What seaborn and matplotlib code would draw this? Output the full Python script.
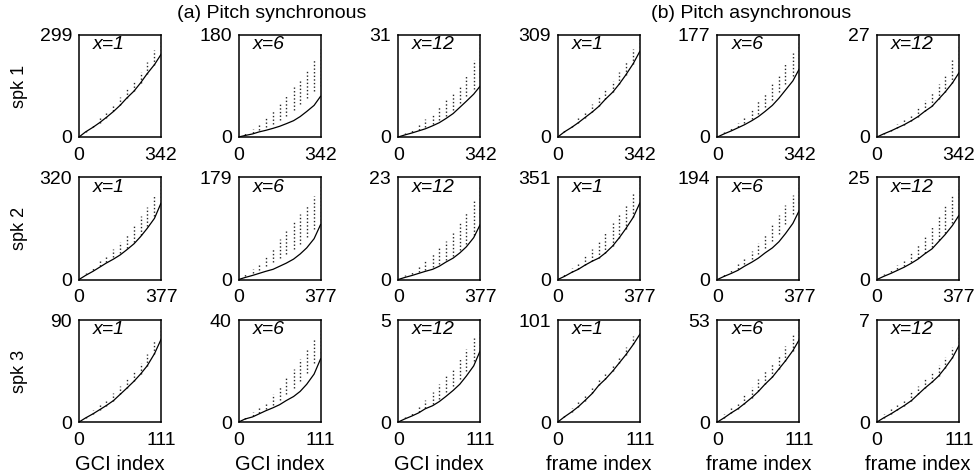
import numpy as np
import matplotlib
matplotlib.use('Agg')
import matplotlib.pyplot as plt
import seaborn as sns

sns.set_theme(style='white')
plt.rcParams['font.family'] = ['Liberation Sans', 'DejaVu Sans']
plt.rcParams['text.color'] = 'black'
plt.rcParams['axes.labelcolor'] = 'black'

# axis limits
speakers = ['spk 1', 'spk 2', 'spk 3']
x_max = [342, 377, 111]
y_max = [[299, 180, 31, 309, 177, 27],
         [320, 179, 23, 351, 194, 25],
         [90, 40, 5, 101, 53, 7]]
panel_tags = ['x=1', 'x=6', 'x=12', 'x=1', 'x=6', 'x=12']
x_labels = ['GCI index'] * 3 + ['frame index'] * 3

# sample positions along x (fraction of the x range)
x_pos = [0, .08, .17, .25, .33, .42, .5, .58, .67, .75, .83, .92, 1.0]

# solid curve (fraction of the y range), one list per panel
curve = [
    [[0, .05, .095, .14, .19, .25, .31, .38, .45, .53, .62, .71, .81],
     [0, .015, .03, .05, .065, .085, .105, .13, .16, .2, .25, .31, .40],
     [0, .02, .04, .06, .08, .11, .14, .18, .23, .29, .35, .42, .50],
     [0, .05, .095, .14, .19, .245, .30, .37, .44, .52, .61, .72, .84],
     [0, .03, .06, .09, .12, .16, .2, .25, .31, .38, .46, .55, .67],
     [0, .03, .06, .09, .12, .16, .2, .25, .30, .37, .44, .53, .63]],
    [[0, .04, .08, .12, .16, .2, .24, .29, .35, .42, .5, .6, .75],
     [0, .02, .04, .06, .08, .1, .13, .16, .2, .25, .31, .4, .54],
     [0, .02, .04, .06, .08, .1, .13, .17, .21, .26, .32, .41, .54],
     [0, .03, .07, .1, .14, .18, .21, .26, .33, .41, .5, .61, .75],
     [0, .03, .06, .09, .13, .17, .21, .26, .31, .37, .45, .55, .68],
     [0, .03, .06, .09, .12, .16, .2, .25, .3, .37, .44, .53, .63]],
    [[0, .04, .08, .12, .16, .21, .27, .33, .4, .47, .55, .67, .81],
     [0, .03, .05, .08, .11, .14, .17, .21, .25, .3, .37, .47, .62],
     [0, .03, .06, .09, .13, .16, .2, .25, .31, .37, .45, .55, .7],
     [0, .05, .1, .15, .21, .28, .36, .42, .5, .58, .66, .76, .86],
     [0, .04, .09, .13, .18, .24, .3, .37, .44, .52, .6, .7, .81],
     [0, .04, .08, .12, .16, .21, .27, .33, .39, .45, .53, .63, .75]],
]

# dotted clusters: lower and upper ends (None -> starts on the curve)
dots_lo = [
    [None,
     [0, .02, .04, .07, .1, .13, .17, .21, .26, .32, .38, .45, .5],
     [0, .025, .05, .07, .1, .13, .17, .21, .26, .33, .4, .47, .55],
     None,
     [0, .035, .07, .1, .14, .18, .23, .29, .36, .44, .52, .6, .7],
     None],
    [[0, .05, .09, .13, .17, .22, .26, .31, .37, .44, .52, .62, .77],
     [0, .03, .06, .09, .13, .17, .21, .25, .3, .35, .42, .5, .58],
     [0, .03, .05, .07, .09, .12, .15, .19, .23, .29, .35, .44, .57],
     None,
     [0, .03, .07, .1, .15, .2, .25, .31, .38, .45, .54, .64, .75],
     [0, .04, .07, .1, .13, .17, .21, .26, .32, .39, .46, .55, .66]],
    [None,
     [0, .03, .06, .09, .13, .17, .22, .27, .33, .4, .48, .58, .68],
     [0, .04, .07, .1, .14, .18, .23, .29, .35, .42, .5, .6, .72],
     None,
     None,
     None],
]
dots_hi = [
    [[0, .08, .13, .19, .25, .32, .39, .47, .55, .64, .74, .85, .98],
     [0, .04, .08, .13, .19, .26, .33, .41, .49, .57, .66, .76, .88],
     [0, .04, .08, .13, .18, .23, .29, .36, .43, .51, .6, .75, .92],
     [0, .07, .13, .19, .25, .32, .39, .47, .55, .64, .74, .86, .99],
     [0, .05, .09, .14, .2, .27, .35, .43, .52, .62, .72, .82, .93],
     [0, .05, .09, .13, .18, .23, .29, .36, .44, .52, .62, .75, .9]],
    [[0, .06, .12, .18, .24, .3, .37, .45, .53, .62, .71, .83, .97],
     [0, .05, .1, .16, .22, .3, .4, .48, .56, .64, .72, .82, .93],
     [0, .04, .08, .13, .19, .25, .31, .38, .46, .55, .65, .77, .91],
     [0, .06, .11, .17, .23, .3, .38, .46, .55, .64, .74, .86, .99],
     [0, .05, .1, .15, .21, .28, .36, .44, .53, .63, .73, .83, .94],
     [0, .05, .09, .14, .2, .27, .35, .43, .52, .62, .72, .82, .92]],
    [[0, .07, .12, .17, .22, .28, .35, .42, .5, .58, .67, .8, .94],
     [0, .05, .1, .15, .2, .27, .35, .43, .52, .62, .72, .82, .92],
     [0, .05, .1, .16, .22, .29, .37, .45, .53, .62, .72, .82, .92],
     [0, .08, .14, .2, .27, .34, .42, .49, .57, .65, .74, .84, .95],
     [0, .08, .14, .2, .27, .34, .42, .5, .58, .66, .75, .85, .95],
     [0, .08, .13, .18, .23, .29, .35, .42, .49, .56, .64, .74, .86]],
]

fig, axes = plt.subplots(3, 6, figsize=(9.79, 4.76), dpi=100)
fig.subplots_adjust(left=0.0807, right=0.9796, top=0.9265, bottom=0.1134,
                    wspace=0.945, hspace=0.397)

for r in range(3):
    for c in range(6):
        ax = axes[r, c]
        xm, ym = x_max[r], y_max[r][c]
        x = np.array(x_pos) * xm
        y = np.array(curve[r][c]) * ym
        lo = y if dots_lo[r][c] is None else np.array(dots_lo[r][c]) * ym
        hi = np.array(dots_hi[r][c]) * ym

        ax.vlines(x[1:], lo[1:], hi[1:], colors='0.15', linewidth=1.0,
                  linestyles=(0, (1, 1.6)))
        sns.lineplot(x=x, y=y, ax=ax, color='black', linewidth=0.9)

        ax.set_xlim(0, xm)
        ax.set_ylim(0, ym)
        ax.set_xticks([0, xm])
        ax.set_yticks([0, ym])
        ax.tick_params(length=0, labelsize=14, colors='black')
        ax.tick_params(axis='x', pad=7)
        ax.tick_params(axis='y', pad=5)
        for s in ax.spines.values():
            s.set_color('black')
            s.set_linewidth(1.1)
        ax.text(0.17, 0.99, panel_tags[c], transform=ax.transAxes,
                ha='left', va='top', fontsize=14, style='italic', color='black')
        if c == 0:
            ax.set_ylabel(speakers[r], fontsize=13, color='black')
            ax.yaxis.set_label_coords(-0.62, 0.5)
        if r == 2:
            ax.set_xlabel(x_labels[c], fontsize=14.5, color='black')
            ax.xaxis.set_label_coords(0.5, -0.32)

fig.text(177 / 979, 1 - 14 / 476, '(a) Pitch synchronous', fontsize=14,
         ha='left', va='center', color='black')
fig.text(651 / 979, 1 - 14 / 476, '(b) Pitch asynchronous', fontsize=14,
         ha='left', va='center', color='black')

plt.savefig('out.png', dpi=100)
